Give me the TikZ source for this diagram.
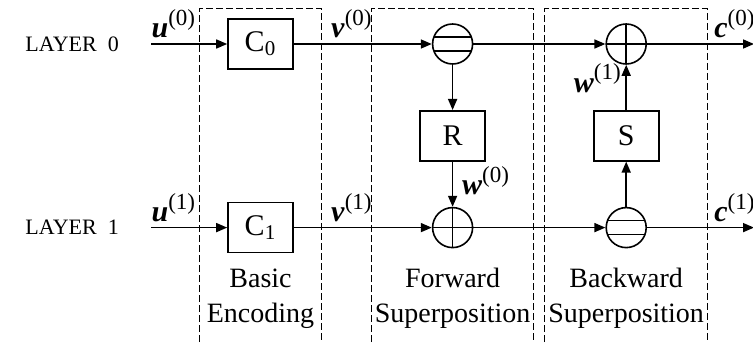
\documentclass[tikz,border=0pt]{standalone}
\usepackage{fontspec}
\setmainfont{Liberation Serif}
\usepackage{tikz}
\usetikzlibrary{arrows.meta,positioning,calc}

\newcommand{\layersig}[2]{\textbf{\textit{#1}}\raisebox{6pt}{\fontsize{11.5}{12}\selectfont(#2)}}

\begin{document}
\begin{tikzpicture}[
    font=\fontsize{11}{13}\selectfont,
    >={Triangle[length=5.5pt,width=4.5pt]},
    flow/.style={->, line width=0.8pt},
    block/.style={
        draw,
        minimum width=32.5pt,
        minimum height=25pt,
        inner sep=0pt,
        line width=0.8pt,
        font=\fontsize{15}{18}\selectfont
    },
    sum/.style={
        circle,
        draw,
        minimum size=20pt,
        inner sep=0pt,
        line width=0.8pt,
        path picture={
            \draw[line width=0.8pt]
                (path picture bounding box.north) -- (path picture bounding box.south)
                (path picture bounding box.west) -- (path picture bounding box.east);
        }
    },
    diff/.style={
        circle,
        draw,
        minimum size=20pt,
        inner sep=0pt,
        line width=0.8pt,
        path picture={
            \draw[line width=0.8pt]
                ([yshift=3.5pt]path picture bounding box.west) -- ([yshift=3.5pt]path picture bounding box.east)
                ([yshift=-3.5pt]path picture bounding box.west) -- ([yshift=-3.5pt]path picture bounding box.east);
        }
    },
    group/.style={
        draw,
        dash pattern=on 3.3pt off 1.7pt,
        line width=0.5pt
    },
    caption/.style={
        font=\fontsize{14}{17.5}\selectfont,
        align=center,
        inner sep=0pt
    },
    sig/.style={
        font=\fontsize{15}{18}\selectfont,
        inner sep=0pt
    }
]
\useasboundingbox (-130.25pt,22pt) rectangle (246.25pt,-149pt);

% Layer blocks
\node[block] (c0) at (0,0) {C\textsubscript{0}};
\node[block, below=66pt of c0] (c1) {C\textsubscript{1}};

\node[diff, right=69pt of c0] (minus0) {};
\node[sum] (plus1) at (minus0 |- c1) {};
\node[block] (r) at ($(minus0)!0.5!(plus1)$) {R};

\node[sum, right=66pt of minus0] (plus0) {};
\node[diff] (minus1) at (plus0 |- c1) {};
\node[block] (s) at ($(plus0)!0.5!(minus1)$) {S};

% Inputs, outputs and layer names
\coordinate[left=38pt of c0] (in0);
\coordinate[left=38pt of c1] (in1);
\coordinate[right=53.5pt of plus0] (out0);
\coordinate[right=53.5pt of minus1] (out1);

\node[left=16pt of in0, inner sep=0pt] (layer0) {LAYER\ \ 0};
\node[left=16pt of in1, inner sep=0pt] (layer1) {LAYER\ \ 1};

% Data flow
\draw[flow] (in0) -- (c0);
\draw[flow] (c0) -- (minus0);
\draw[flow] (minus0) -- (plus0);
\draw[flow] (plus0) -- (out0);

\draw[flow] (in1) -- (c1);
\draw[flow] (c1) -- (plus1);
\draw[flow] (plus1) -- (minus1);
\draw[flow] (minus1) -- (out1);

\draw[flow] (minus0) -- (r);
\draw[flow] (r) -- (plus1);
\draw[flow] (minus1) -- (s);
\draw[flow] (s) -- (plus0);

% Signal labels
\node[sig, anchor=base west] (u0) at ([yshift=3pt]in0) {\layersig{u}{0}};
\node[sig, anchor=base west] (u1) at ([yshift=3pt]in1) {\layersig{u}{1}};
\node[sig, anchor=base west] (v0) at ([xshift=18.5pt,yshift=3pt]c0.east) {\layersig{v}{0}};
\node[sig, anchor=base west] (v1) at ([xshift=18.5pt,yshift=3pt]c1.east) {\layersig{v}{1}};
\node[sig, anchor=base west] (w0) at ([xshift=4.5pt,yshift=6pt]plus1.north) {\layersig{w}{0}};
\node[sig, anchor=base east] (w1) at ([xshift=-2.5pt,yshift=9pt]s.north) {\layersig{w}{1}};
\node[sig, anchor=base west] (cw0) at ([xshift=33.5pt,yshift=3pt]plus0.east) {\layersig{c}{0}};
\node[sig, anchor=base west] (cw1) at ([xshift=33.5pt,yshift=3pt]minus1.east) {\layersig{c}{1}};

% Stage frames
\coordinate (top) at ([yshift=17.5pt]c0.center);
\coordinate (bot) at ([yshift=-149pt]c0.center);

\draw[group] ($(c0.west |- bot)+(-14pt,0)$) |- ($(c0.east |- top)+(14pt,0)$) -- ($(c0.east |- bot)+(14pt,0)$);
\draw[group] ($(r.west |- bot)+(-24pt,0)$) |- ($(r.east |- top)+(24pt,0)$) -- ($(r.east |- bot)+(24pt,0)$);
\draw[group] ($(s.west |- bot)+(-24pt,0)$) |- ($(s.east |- top)+(24pt,0)$) -- ($(s.east |- bot)+(24pt,0)$);

\node[caption, anchor=base] (enc) at ([yshift=-139pt]c0.center) {Basic\\Encoding};
\node[caption, anchor=base] (fwd) at (enc.base -| r) {Forward\\Superposition};
\node[caption, anchor=base] (bwd) at (enc.base -| s) {Backward\\Superposition};

\end{tikzpicture}
\end{document}
